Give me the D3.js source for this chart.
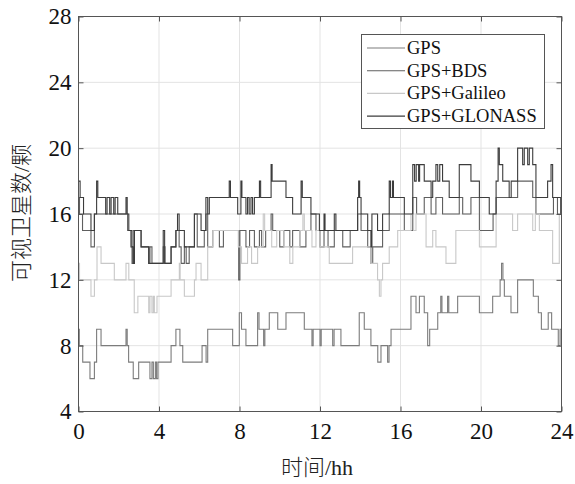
<!DOCTYPE html>
<html>
<head>
<meta charset="utf-8">
<script src="https://cdn.jsdelivr.net/npm/d3@7"></script>
<style>
  body { margin: 0; background: #fff; }
  text { font-family: "Liberation Serif", "Noto Sans CJK SC", serif; }
</style>
</head>
<body>
<div id="chart"></div>
<script>
// step data: [hour, visible satellites]
const gps = [[0,9],[0.04,8],[0.21,7],[0.57,6],[0.79,7],[0.90,9],[1.12,8],[2.36,9],[2.42,8],[2.49,7],[2.72,6],[2.99,7],[3.55,6],[3.65,7],[3.72,6],[3.82,7],[3.88,6],[3.95,7],[4.60,8],[4.84,9],[5.04,8],[5.18,7],[6.14,8],[6.34,7],[6.42,9],[7.66,8],[7.99,10],[8.10,9],[8.32,8],[8.90,10],[8.97,9],[9.20,8],[9.26,9],[9.48,10],[9.90,9],[10.31,10],[11.22,9],[11.60,8],[11.66,9],[12.00,8],[12.06,9],[12.63,8],[12.70,9],[13.04,8],[13.95,10],[14.20,9],[14.53,8],[14.87,7],[15.03,8],[15.36,7],[15.43,8],[15.53,9],[16.52,11],[16.77,10],[16.94,11],[17.18,10],[17.35,8],[17.45,9],[17.85,10],[18.00,11],[18.06,10],[18.34,11],[18.40,10],[18.84,11],[19.92,10],[20.58,11],[20.95,12],[21.02,13],[21.09,12],[21.16,11],[21.49,10],[21.82,12],[22.60,11],[22.85,10],[23.00,9],[23.34,10],[23.51,9],[23.84,8],[23.93,9]];

const bds = [[0,17],[0.05,16],[0.20,15],[0.62,14],[0.79,16],[2.36,16],[2.44,15],[2.60,14],[2.66,13],[2.72,15],[3.11,14],[3.49,13],[3.55,14],[3.65,13],[4.21,14],[4.30,13],[4.60,14],[4.84,15],[5.00,14],[5.10,13],[5.26,14],[5.35,13],[5.50,14],[5.76,16],[5.90,14],[6.25,15],[6.33,16],[6.42,14],[6.67,15],[7.00,14],[7.20,15],[7.91,15],[7.96,12],[8.02,15],[8.32,14],[8.50,15],[8.74,14],[8.99,15],[9.10,14],[9.30,15],[9.57,16],[9.65,15],[10.00,14],[10.20,15],[10.50,14],[10.64,15],[11.00,14],[11.30,15],[11.55,16],[11.80,15],[12.00,14],[12.20,15],[12.40,14],[12.71,15],[13.13,14],[13.50,15],[13.87,16],[14.04,15],[14.37,14],[14.53,13],[14.62,14],[15.11,15],[15.44,16],[16.19,15],[16.61,17],[16.80,16],[17.18,17],[17.52,16],[17.76,17],[18.09,16],[18.92,17],[19.09,16],[19.50,17],[19.92,15],[20.60,16],[20.75,17],[21.82,18],[22.57,17],[22.73,16],[23.60,17],[23.80,16],[23.97,17]];

const galileo = [[0,13],[0.05,12],[0.62,11],[0.79,12],[0.92,14],[1.12,13],[1.78,12],[2.36,13],[2.50,12],[2.77,10],[2.95,11],[3.49,10],[3.55,11],[3.65,10],[3.72,11],[3.77,10],[3.90,11],[4.60,12],[5.01,13],[5.05,12],[5.26,11],[5.76,12],[5.84,13],[6.09,12],[6.42,14],[6.67,15],[7.94,14],[8.10,13],[8.40,14],[8.60,13],[8.90,14],[9.18,16],[9.25,15],[9.60,14],[9.85,15],[10.20,14],[10.50,13],[10.65,14],[11.00,15],[11.15,16],[11.22,15],[11.60,14],[11.80,15],[12.00,14],[12.46,13],[13.62,14],[14.53,13],[14.86,12],[14.95,11],[15.03,12],[15.11,13],[15.44,14],[15.86,15],[16.52,16],[16.65,15],[16.77,16],[17.27,14],[17.60,15],[17.76,14],[18.26,13],[18.75,15],[19.92,14],[20.75,16],[21.57,15],[21.82,16],[22.57,15],[22.70,16],[22.90,15],[23.56,13],[23.89,16]];

const glonass = [[0,18],[0.08,17],[0.25,16],[0.62,15],[0.79,16],[0.90,18],[0.96,17],[1.35,16],[1.42,17],[1.55,16],[1.62,17],[1.75,16],[1.82,17],[1.95,16],[2.36,17],[2.42,16],[2.50,15],[2.65,14],[2.72,13],[2.78,15],[3.11,14],[3.49,13],[3.77,13],[4.21,15],[4.28,13],[4.60,14],[4.84,15],[4.92,16],[5.00,15],[5.26,14],[5.76,16],[6.09,15],[6.33,17],[6.42,16],[6.50,17],[7.49,18],[7.55,17],[7.91,16],[8.07,18],[8.12,17],[8.32,16],[8.40,17],[8.48,16],[8.57,17],[8.65,16],[8.74,17],[8.99,18],[9.05,17],[9.57,19],[9.62,18],[10.31,17],[10.64,16],[11.06,18],[11.12,17],[11.55,16],[11.97,15],[12.20,16],[12.25,15],[12.71,16],[12.79,15],[13.87,17],[13.92,18],[13.97,17],[14.04,16],[14.37,15],[14.53,14],[14.58,16],[14.86,15],[15.11,16],[15.44,18],[15.50,17],[15.60,18],[15.65,17],[16.19,16],[16.61,19],[16.70,18],[16.78,19],[16.90,18],[16.95,19],[17.18,18],[17.52,17],[17.60,18],[17.76,19],[17.85,18],[17.95,19],[18.09,18],[18.42,17],[18.92,19],[19.50,18],[19.92,17],[20.41,16],[20.75,18],[20.85,20],[20.91,19],[21.08,18],[21.40,17],[21.50,18],[21.82,20],[22.07,19],[22.15,20],[22.32,19],[22.40,20],[22.57,19],[22.73,17],[23.31,18],[23.48,19],[23.56,17],[23.97,16]];

const seriesNames = ["GPS", "GPS+BDS", "GPS+Galileo", "GPS+GLONASS"];
const seriesColors = ["#7c7c7c", "#5f5f5f", "#c8c8c8", "#3c3c3c"];
const xTicks = [0, 4, 8, 12, 16, 20, 24];
const yTicks = [4, 8, 12, 16, 20, 24, 28];

const width = 575, height = 484;
const svg = d3.select("#chart").append("svg")
    .attr("width", width)
    .attr("height", height);

const x = d3.scaleLinear().domain([0, 24]).range([78.5, 561.5]);
const y = d3.scaleLinear().domain([4, 28]).range([411.5, 16.5]);

// grid
svg.append("g").selectAll("line").data(xTicks.slice(1, -1)).join("line")
    .attr("x1", d => x(d)).attr("x2", d => x(d))
    .attr("y1", y(4)).attr("y2", y(28))
    .attr("stroke", "#e3e3e3");
svg.append("g").selectAll("line").data(yTicks.slice(1, -1)).join("line")
    .attr("y1", d => y(d)).attr("y2", d => y(d))
    .attr("x1", x(0)).attr("x2", x(24))
    .attr("stroke", "#e3e3e3");

// series
const line = d3.line()
    .x(d => x(d[0]))
    .y(d => y(d[1]))
    .curve(d3.curveStepAfter);

const allSeries = [gps, bds, galileo, glonass];
allSeries.forEach((s, i) => {
    const pts = s.concat([[24, s[s.length - 1][1]]]);
    svg.append("path")
        .datum(pts)
        .attr("fill", "none")
        .attr("stroke", seriesColors[i])
        .attr("stroke-width", 1.1)
        .attr("d", line);
});

// axes with inward ticks
const styleAxis = g => {
    g.select(".domain").remove();
    g.selectAll(".tick line").attr("stroke", "#555");
    g.selectAll(".tick text").attr("font-size", 23).attr("fill", "#111")
        .attr("font-family", "Liberation Serif");
};
svg.append("g").attr("transform", `translate(0,${y(4)})`)
    .call(d3.axisBottom(x).tickValues(xTicks).tickSize(-5).tickPadding(11).tickFormat(d3.format("d")))
    .call(styleAxis);
svg.append("g").attr("transform", `translate(0,${y(28)})`)
    .call(d3.axisTop(x).tickValues(xTicks).tickSize(-5).tickFormat(""))
    .call(styleAxis);
svg.append("g").attr("transform", `translate(${x(0)},0)`)
    .call(d3.axisLeft(y).tickValues(yTicks).tickSize(-5).tickPadding(7).tickFormat(d3.format("d")))
    .call(styleAxis);
svg.append("g").attr("transform", `translate(${x(24)},0)`)
    .call(d3.axisRight(y).tickValues(yTicks).tickSize(-5).tickFormat(""))
    .call(styleAxis);

// frame
svg.append("rect")
    .attr("x", x(0)).attr("y", y(28))
    .attr("width", x(24) - x(0)).attr("height", y(4) - y(28))
    .attr("fill", "none").attr("stroke", "#555").attr("stroke-width", 1);

// axis titles
svg.append("text")
    .attr("x", 317).attr("y", 475)
    .attr("text-anchor", "middle")
    .attr("font-size", 22).attr("font-weight", 300).attr("fill", "#222")
    .text("时间/hh");
svg.append("text")
    .attr("transform", "translate(29,213) rotate(-90)")
    .attr("text-anchor", "middle")
    .attr("font-size", 22).attr("font-weight", 300).attr("fill", "#222")
    .text("可视卫星数/颗");

// legend
const legend = svg.append("g");
legend.append("rect")
    .attr("x", 361.5).attr("y", 34.5)
    .attr("width", 183).attr("height", 94)
    .attr("fill", "#fff").attr("stroke", "#555");
seriesNames.forEach((name, i) => {
    const cy = 48 + i * 22.7;
    legend.append("line")
        .attr("x1", 367).attr("x2", 405)
        .attr("y1", cy).attr("y2", cy)
        .attr("stroke", seriesColors[i]).attr("stroke-width", 1.1);
    legend.append("text")
        .attr("x", 407).attr("y", cy + 6)
        .attr("font-size", 18.5).attr("fill", "#111")
        .text(name);
});
</script>
</body>
</html>
